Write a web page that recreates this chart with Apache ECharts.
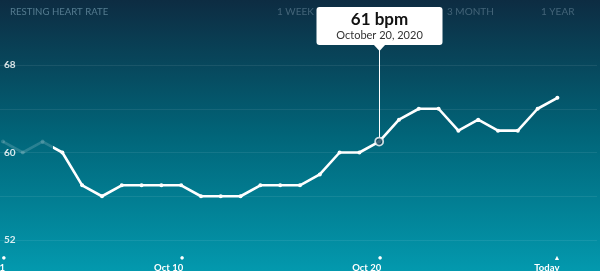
<!DOCTYPE html>
<html>
<head>
<meta charset="utf-8">
<script src="https://cdn.jsdelivr.net/npm/echarts@6/dist/echarts.min.js"></script>
<style>
html,body{margin:0;padding:0;background:#0a3a52;}
#c{width:600px;height:271px;}
</style>
</head>
<body>
<div id="c"></div>
<script>
// ---- data ----
const days = ['Oct 1','Oct 2','Oct 3','Oct 4','Oct 5','Oct 6','Oct 7','Oct 8','Oct 9','Oct 10',
  'Oct 11','Oct 12','Oct 13','Oct 14','Oct 15','Oct 16','Oct 17','Oct 18','Oct 19','Oct 20',
  'Oct 21','Oct 22','Oct 23','Oct 24','Oct 25','Oct 26','Oct 27','Oct 28','Oct 29'];
const bpm = [61,60,61,60,57,56,57,57,57,57,56,56,56,57,57,57,58,60,60,61,63,64,64,62,63,62,62,64,65];
const tickIdx = [0, 9, 19, 28];
const tickLabels = ['Oct 1', 'Oct 10', 'Oct 20', 'Today'];
const yTickLabels = [52, 60, 68];
const fadedCount = 3;
const selectedIdx = 19;
const selectedDateText = 'October 20, 2020';
const titleText = 'RESTING HEART RATE';
const tabs = ['1 WEEK', '1 MONTH', '3 MONTH', '1 YEAR'];

const FONT = 'Lato, "Open Sans", sans-serif';
const chart = echarts.init(document.getElementById('c'), null, {renderer: 'canvas'});

const pts = bpm.map((v, i) => [i, v]);
const tabX = [277, 355, 447, 541];

const option = {
  backgroundColor: {
    type: 'linear', x: 0, y: 0, x2: 0, y2: 1,
    colorStops: [
      {offset: 0, color: '#0d2c42'},
      {offset: 0.5, color: '#016579'},
      {offset: 1, color: '#0399ae'}
    ]
  },
  animation: false,
  grid: {left: 0, right: 3, top: 65, bottom: 31, containLabel: false, outerBoundsMode: 'none'},
  xAxis: {
    type: 'value', min: -0.15, max: 30,
    axisLine: {show: false}, axisTick: {show: false}, splitLine: {show: false},
    axisLabel: {
      customValues: tickIdx,
      margin: 13,
      align: 'right',
      verticalAlign: 'top',
      formatter: function (v) {
        const k = tickIdx.indexOf(Math.round(v));
        if (k < 0) return '';
        const mk = (k === tickIdx.length - 1) ? '{tri|▲}' : '{dot|●}';
        return mk + '\n{lbl|' + tickLabels[k] + '}';
      },
      rich: {
        dot: {fontSize: 7, color: '#fff', lineHeight: 9, fontFamily: FONT, padding: [0, -3, 0, 0]},
        tri: {fontSize: 7, color: '#fff', lineHeight: 9, fontFamily: FONT, padding: [0, -3, 0, 0]},
        lbl: {fontSize: 9.5, color: '#fff', fontWeight: 'bold', lineHeight: 11, fontFamily: FONT, padding: [0, -2, 0, 0]}
      }
    }
  },
  yAxis: {
    type: 'value', min: 52, max: 68, interval: 4,
    axisLine: {show: false}, axisTick: {show: false},
    splitLine: {lineStyle: {color: 'rgba(255,255,255,0.08)', width: 1}},
    axisLabel: {
      inside: true, margin: 4,
      color: 'rgba(255,255,255,0.85)', fontSize: 10, fontWeight: 'bold', fontFamily: FONT,
      formatter: v => yTickLabels.indexOf(v) >= 0 ? String(v) : ''
    }
  },
  series: [
    {
      type: 'line', data: pts, symbol: 'circle', symbolSize: 4,
      lineStyle: {width: 2.6, color: '#fff'}, itemStyle: {color: '#fff'}, z: 3, silent: true
    },
    {
      type: 'scatter', data: [pts[selectedIdx]], symbol: 'circle', symbolSize: 8,
      itemStyle: {color: '#0d3d55', borderColor: '#fff', borderWidth: 1.8}, z: 6, silent: true
    }
  ]
};
chart.setOption(option);

// faded lead-in: switch colour part way between the last faded day and the first bright one
const pa = chart.convertToPixel({seriesIndex: 0}, pts[fadedCount - 1]);
const pb = chart.convertToPixel({seriesIndex: 0}, pts[fadedCount]);
const cut = pa[0] + (pb[0] - pa[0]) * 0.55;
const fade = 'rgba(255,255,255,0.16)';
const grad = new echarts.graphic.LinearGradient(0, 0, cut * 2, 0, [
  {offset: 0, color: fade}, {offset: 0.4999, color: fade},
  {offset: 0.5, color: '#fff'}, {offset: 1, color: '#fff'}
], true);
const itemData = pts.map((d, i) => i < fadedCount ? {value: d, itemStyle: {color: fade}} : d);

const p = chart.convertToPixel({seriesIndex: 0}, pts[selectedIdx]);
const cx = Math.round(p[0]) + 0.5;
const boxW = 126, boxH = 38, boxTop = 7;
const g = [];
g.push({type: 'text', x: 10, y: 7, z: 1,
  style: {text: titleText, fill: '#557c90', font: '9.6px ' + FONT}});
tabs.forEach((t, i) => g.push({type: 'text', x: tabX[i], y: 7, z: 1,
  style: {text: t, fill: '#436478', font: '10px ' + FONT}}));
g.push({type: 'line', z: 5, shape: {x1: cx, y1: boxTop + boxH + 5, x2: cx, y2: p[1] - 4},
  style: {stroke: '#fff', lineWidth: 1}});
g.push({type: 'rect', z: 10, shape: {x: cx - boxW / 2, y: boxTop, width: boxW, height: boxH, r: 3},
  style: {fill: '#fff'}});
g.push({type: 'polygon', z: 10, shape: {points: [[cx - 6, boxTop + boxH - 0.5], [cx + 6, boxTop + boxH - 0.5], [cx, boxTop + boxH + 6]]},
  style: {fill: '#fff'}});
g.push({type: 'text', z: 11, x: cx, y: boxTop + 13,
  style: {text: bpm[selectedIdx] + ' bpm', fill: '#111', font: 'bold 17px ' + FONT, align: 'center', verticalAlign: 'middle'}});
g.push({type: 'text', z: 11, x: cx, y: boxTop + 28.5,
  style: {text: selectedDateText, fill: '#333', font: '11px ' + FONT, align: 'center', verticalAlign: 'middle'}});
chart.setOption({
  series: [{data: itemData, lineStyle: {color: grad}}],
  graphic: g
});
</script>
</body>
</html>
